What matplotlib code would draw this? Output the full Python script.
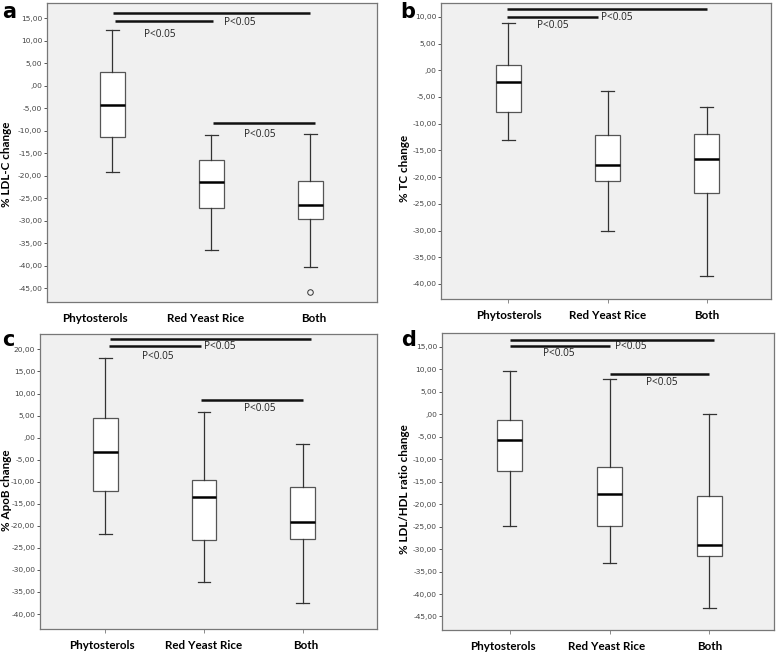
import matplotlib
matplotlib.use('Agg')
from matplotlib import pyplot as plt
from matplotlib.ticker import FuncFormatter, MultipleLocator

categories = ['Phytosterols', 'Red Yeast Rice', 'Both']

# box stats per panel: whislo, q1, med, q3, whishi
ldl_whislo = [-19.1, -36.4, -40.3]
ldl_q1 = [-11.4, -27.1, -29.6]
ldl_med = [-4.3, -21.3, -26.4]
ldl_q3 = [3.1, -16.6, -21.1]
ldl_whishi = [12.3, -10.9, -10.7]
ldl_fliers = [[], [], [-45.8]]

tc_whislo = [-13.1, -30.0, -38.6]
tc_q1 = [-7.9, -20.7, -22.9]
tc_med = [-2.2, -17.8, -16.6]
tc_q3 = [1.0, -12.1, -12.0]
tc_whishi = [8.9, -3.8, -6.9]
tc_fliers = [[], [], []]

apob_whislo = [-21.9, -32.7, -37.4]
apob_q1 = [-12.1, -23.2, -22.9]
apob_med = [-3.2, -13.5, -19.2]
apob_q3 = [4.5, -9.6, -11.2]
apob_whishi = [18.0, 5.9, -1.4]
apob_fliers = [[], [], []]

ratio_whislo = [-24.9, -33.2, -43.1]
ratio_q1 = [-12.7, -24.9, -31.6]
ratio_med = [-5.7, -17.7, -29.2]
ratio_q3 = [-1.3, -11.7, -18.3]
ratio_whishi = [9.6, 7.8, 0.0]
ratio_fliers = [[], [], []]

# significance bars: (start, end, y) and labels: (x, y)
ldl_bars = [(0.01, 2.0, 16.1), (0.03, 1.02, 14.3), (1.02, 2.05, -8.2)]
ldl_ptext = [(1.29, 14.0), (0.48, 11.4), (1.49, -10.9)]
tc_bars = [(-0.01, 2.0, 11.4), (-0.01, 0.9, 10.06)]
tc_ptext = [(1.09, 9.8), (0.45, 8.3)]
apob_bars = [(0.05, 2.08, 22.3), (0.04, 0.97, 20.75), (0.97, 2.0, 8.5)]
apob_ptext = [(1.16, 20.6), (0.53, 18.3), (1.56, 6.6)]
ratio_bars = [(0.0, 2.05, 16.5), (0.0, 1.0, 15.07), (1.0, 2.0, 9.0)]
ratio_ptext = [(1.21, 15.0), (0.49, 13.4), (1.52, 6.9)]

panels = [
    dict(letter='a', ylabel='% LDL-C change', stats=(ldl_whislo, ldl_q1, ldl_med, ldl_q3, ldl_whishi, ldl_fliers),
         bars=ldl_bars, ptext=ldl_ptext, ylim=(-48.1, 18.3), xlim=(-0.66, 2.67),
         rect=[0.0604, 0.540, 0.424, 0.455], lab=(-0.106, 0.46), xticks=False,
         shift=[-0.175, -0.064, 0.034]),
    dict(letter='b', ylabel='% TC change', stats=(tc_whislo, tc_q1, tc_med, tc_q3, tc_whishi, tc_fliers),
         bars=tc_bars, ptext=tc_ptext, ylim=(-42.8, 12.6), xlim=(-0.68, 2.65),
         rect=[0.567, 0.545, 0.424, 0.4505], lab=(-0.094, 0.44), xticks=True,
         shift=[0, 0, 0]),
    dict(letter='c', ylabel='% ApoB change', stats=(apob_whislo, apob_q1, apob_med, apob_q3, apob_whishi, apob_fliers),
         bars=apob_bars, ptext=apob_ptext, ylim=(-43.4, 23.5), xlim=(-0.66, 2.75),
         rect=[0.0514, 0.0426, 0.433, 0.449], lab=(-0.083, 0.47), xticks=True,
         shift=[-0.03, 0, 0.03]),
    dict(letter='d', ylabel='% LDL/HDL ratio change', stats=(ratio_whislo, ratio_q1, ratio_med, ratio_q3, ratio_whishi, ratio_fliers),
         bars=ratio_bars, ptext=ratio_ptext, ylim=(-48.0, 18.0), xlim=(-0.68, 2.65),
         rect=[0.568, 0.0411, 0.427, 0.452], lab=(-0.096, 0.475), xticks=True,
         shift=[-0.07, -0.03, 0]),
]


def spss_fmt(v, pos):
    s = '%.2f' % v
    s = s.replace('.', ',')
    if s.startswith('0,'):
        s = s[1:]
    if s == '-0,00':
        s = ',00'
    return s


fig = plt.figure(figsize=(7.78, 6.57), dpi=100)
fig.patch.set_facecolor('white')

for p in panels:
    ax = fig.add_axes(p['rect'])
    ax.set_facecolor('#f0f0f0')
    wlo, q1, med, q3, whi, fl = p['stats']
    stats = []
    for i in range(len(categories)):
        stats.append(dict(whislo=wlo[i], q1=q1[i], med=med[i], q3=q3[i], whishi=whi[i], fliers=fl[i]))
    ax.bxp(stats, positions=range(len(categories)), widths=0.25, patch_artist=True,
           boxprops=dict(facecolor='white', edgecolor='#555555', linewidth=0.9),
           medianprops=dict(color='black', linewidth=1.8),
           whiskerprops=dict(color='#333333', linewidth=0.9),
           capprops=dict(color='#333333', linewidth=0.9),
           capwidths=0.13,
           flierprops=dict(marker='o', markersize=4, markerfacecolor='none',
                           markeredgecolor='#333333', markeredgewidth=0.7))
    for x0, x1, y in p['bars']:
        ax.plot([x0, x1], [y, y], color='#111111', linewidth=1.8, solid_capstyle='butt')
    for x, y in p['ptext']:
        ax.text(x, y, 'P<0.05', ha='center', va='center', fontsize=7.2, color='#222222',
                family=['Open Sans', 'DejaVu Sans'])
    ax.set_xlim(p['xlim'])
    ax.set_ylim(p['ylim'])
    ax.yaxis.set_major_locator(MultipleLocator(5))
    ax.yaxis.set_major_formatter(FuncFormatter(spss_fmt))
    ax.tick_params(axis='y', labelsize=5.4, labelcolor='#444444', length=2.5, width=0.7, color='#555555', pad=1)
    # tick marks at the boxes, category labels as minor ticks so they can sit slightly off-centre
    ax.xaxis.remove_overlapping_locs = False
    ax.set_xticks(range(len(categories)))
    ax.set_xticklabels([])
    ax.set_xticks([i + s for i, s in enumerate(p['shift'])], minor=True)
    ax.set_xticklabels(categories, minor=True, fontsize=8.4, fontweight='bold', family=['Lato', 'DejaVu Sans'])
    ax.tick_params(axis='x', which='minor', length=0, pad=8)
    if p['xticks']:
        ax.tick_params(axis='x', which='major', length=3, width=0.6, color='#777777')
    else:
        ax.tick_params(axis='x', which='major', length=0)
    for s in ax.spines.values():
        s.set_color('#777777')
        s.set_linewidth(0.9)
    ax.set_ylabel(p['ylabel'], fontsize=8.4, fontweight='bold', family=['Lato', 'DejaVu Sans'])
    ax.yaxis.set_label_coords(*p['lab'])

fig.text(0.003, 0.997, 'a', fontsize=15, fontweight='bold', va='top', ha='left')
fig.text(0.515, 0.997, 'b', fontsize=15, fontweight='bold', va='top', ha='left')
fig.text(0.003, 0.497, 'c', fontsize=15, fontweight='bold', va='top', ha='left')
fig.text(0.515, 0.497, 'd', fontsize=15, fontweight='bold', va='top', ha='left')

plt.savefig('out.png', dpi=100)
plt.close()
